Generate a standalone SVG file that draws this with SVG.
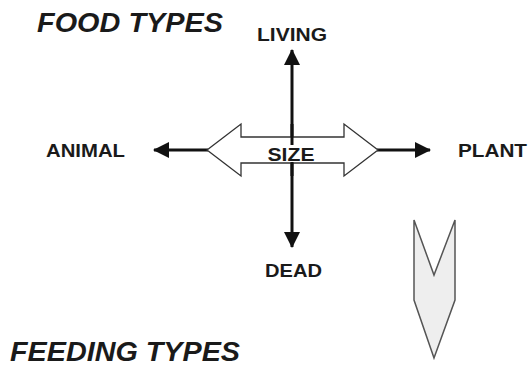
<svg xmlns="http://www.w3.org/2000/svg" width="528" height="367" viewBox="0 0 528 367">
<defs>
<style>
.lbl{font-family:"Liberation Sans",Arial,sans-serif;font-weight:bold;fill:#1a1a1a}
.ttl{font-family:"Liberation Sans",Arial,sans-serif;font-weight:bold;font-style:italic;fill:#1a1a1a}
.ax{stroke:#111;stroke-width:3;fill:none}
</style>
<marker id="ah" viewBox="0 0 16 16" refX="15" refY="8" markerWidth="16" markerHeight="16" markerUnits="userSpaceOnUse" orient="auto">
<path d="M0,0 L16,8 L0,16 Z" fill="#111"/>
</marker>
</defs>
<rect width="528" height="367" fill="#fff"/>
<g id="connectors">
<line class="ax" x1="292" y1="144" x2="292" y2="50" marker-end="url(#ah)"/>
<line class="ax" x1="292" y1="163" x2="292" y2="247" marker-end="url(#ah)"/>
<line class="ax" x1="208" y1="150" x2="154" y2="150" marker-end="url(#ah)"/>
<line class="ax" x1="377" y1="150" x2="430" y2="150" marker-end="url(#ah)"/>
</g>
<g id="size">
<polygon points="207,150 241,124 241,137 344,137 344,124 378,150 344,176 344,163 241,163 241,176" fill="#fff" stroke="#333" stroke-width="1.3"/>
<line class="ax" x1="292" y1="124" x2="292" y2="145"/>
<line class="ax" x1="292" y1="162" x2="292" y2="176"/>
<text class="lbl" x="291" y="161" font-size="18" text-anchor="middle" textLength="47" lengthAdjust="spacingAndGlyphs">SIZE</text>
</g>
<g id="food-types"><text class="ttl" x="37" y="32" font-size="27" textLength="186" lengthAdjust="spacingAndGlyphs">FOOD TYPES</text></g>
<g id="living"><text class="lbl" x="257" y="41" font-size="18" textLength="70" lengthAdjust="spacingAndGlyphs">LIVING</text></g>
<g id="animal"><text class="lbl" x="46" y="157" font-size="18" textLength="79" lengthAdjust="spacingAndGlyphs">ANIMAL</text></g>
<g id="plant"><text class="lbl" x="458" y="157" font-size="18" textLength="69" lengthAdjust="spacingAndGlyphs">PLANT</text></g>
<g id="dead"><text class="lbl" x="265" y="277" font-size="18" textLength="57" lengthAdjust="spacingAndGlyphs">DEAD</text></g>
<g id="feeding-types"><text class="ttl" x="10" y="361" font-size="27" textLength="230" lengthAdjust="spacingAndGlyphs">FEEDING TYPES</text></g>
<g id="chevron"><polygon points="414,220 434,275 455,220 455,300 434,358 414,300" fill="#eeeeee" stroke="#555" stroke-width="1.5"/></g>
</svg>
